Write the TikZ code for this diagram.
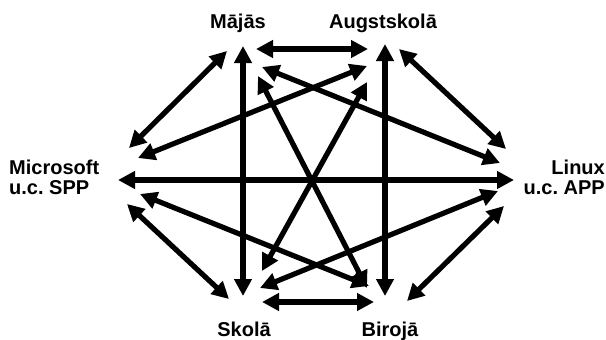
\documentclass[tikz,border=0pt]{standalone}
\usepackage{fontspec}
\setmainfont{Liberation Sans}
\usetikzlibrary{arrows.meta}
\begin{document}
\frenchspacing
\begin{tikzpicture}[x=1pt,y=-1pt,
  lbl/.style={font=\fontsize{20}{20}\selectfont\bfseries, inner sep=0pt},
  link/.style={line width=5.2pt, {Triangle[length=17pt,width=17pt]}-{Triangle[length=17pt,width=17pt]}}]
\useasboundingbox (0,0) rectangle (606,340);
% labels
\node[lbl, anchor=base] (maj) at (238,28) {Mājās};
\node[lbl, anchor=base] (aug) at (383,28) {Augstskolā};
\node[lbl, anchor=base] (sko) at (244,336) {Skolā};
\node[lbl, anchor=base] (bir) at (390,336) {Birojā};
\node[lbl, anchor=north west, align=left] (ms) at (9,160) {Microsoft\\u.c. SPP};
\node[lbl, anchor=north east, align=right] (lx) at (605,160) {Linux\\u.c. APP};
% endpoints
\coordinate (m1) at (256,49);  \coordinate (a1) at (368,49);
\coordinate (s1) at (262,302); \coordinate (b1) at (374,302);
\coordinate (m2) at (243,46);  \coordinate (s2) at (243,296);
\coordinate (a2) at (385,44);  \coordinate (b2) at (385,296);
\coordinate (ms1) at (118,180); \coordinate (lx1) at (514,180);
\coordinate (m3) at (227,51);  \coordinate (ms2) at (129,148);
\coordinate (a3) at (399,49);  \coordinate (lx2) at (506,149);
\coordinate (ms3) at (127,204); \coordinate (s3) at (229,299);
\coordinate (lx3) at (504,206); \coordinate (b3) at (407,301);
\coordinate (a4) at (367,66);  \coordinate (ms4) at (138,158);
\coordinate (m4) at (262,67);  \coordinate (lx4) at (500,163);
\coordinate (ms5) at (140,194); \coordinate (b4) at (369,286);
\coordinate (lx5) at (498,191); \coordinate (s4) at (260,288);
\coordinate (a5) at (367,82);  \coordinate (s5) at (262,271);
\coordinate (m5) at (258,76);  \coordinate (b5) at (367,288);
% connectors
\draw[link] (m1) -- (a1);
\draw[link] (s1) -- (b1);
\draw[link] (m2) -- (s2);
\draw[link] (a2) -- (b2);
\draw[link] (ms1) -- (lx1);
\draw[link] (m3) -- (ms2);
\draw[link] (a3) -- (lx2);
\draw[link] (ms3) -- (s3);
\draw[link] (lx3) -- (b3);
\draw[link] (a4) -- (ms4);
\draw[link] (m4) -- (lx4);
\draw[link] (ms5) -- (b4);
\draw[link] (lx5) -- (s4);
\draw[link] (a5) -- (s5);
\draw[link] (m5) -- (b5);
\end{tikzpicture}
\end{document}
